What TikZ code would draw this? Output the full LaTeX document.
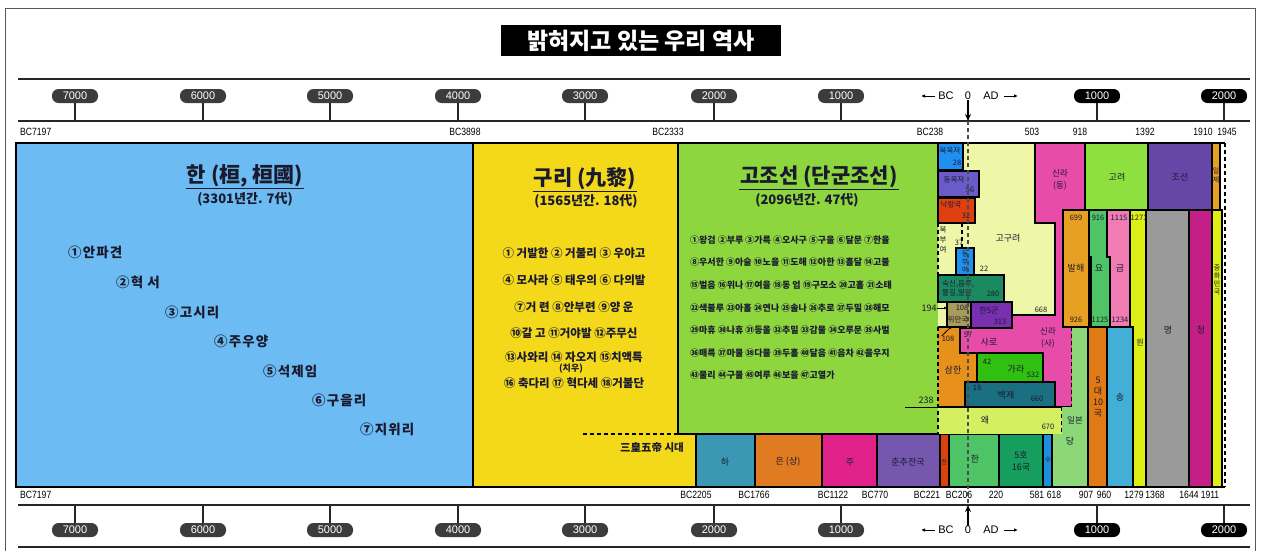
\documentclass[tikz,border=0pt]{standalone}
\usepackage{fontspec}
\setmainfont{Noto Sans CJK KR}
\newfontfamily\krsp[LetterSpace=8]{Noto Sans CJK KR}
\newfontfamily\yrf[FakeStretch=0.82]{Liberation Sans}
\newfontfamily\pillf{Liberation Sans}
\usetikzlibrary{arrows.meta}
\newcommand\fsz[1]{\fontsize{#1}{#1}\selectfont}
\newcommand\fszl[2]{\fontsize{#1}{#2}\selectfont}
\definecolor{cBlue}{HTML}{6CBBF2}
\definecolor{cYel}{HTML}{F4D81A}
\definecolor{cGrn}{HTML}{8DD63E}
\definecolor{cHa}{HTML}{3A98B5}
\definecolor{cEun}{HTML}{E07B22}
\definecolor{cJu}{HTML}{E0218A}
\definecolor{cChun}{HTML}{7557AE}
\definecolor{cJin}{HTML}{D9420F}
\definecolor{cHan}{HTML}{4EC466}
\definecolor{cOho}{HTML}{159E5E}
\definecolor{cSu}{HTML}{1C8FE0}
\definecolor{cDang}{HTML}{8CD878}
\definecolor{cOdae}{HTML}{E07A14}
\definecolor{cSong}{HTML}{42AFD6}
\definecolor{cWon}{HTML}{DDF016}
\definecolor{cMyeong}{HTML}{9A9A9A}
\definecolor{cCheong}{HTML}{C41F86}
\definecolor{cGoryeo}{HTML}{8EE03E}
\definecolor{cJoseon}{HTML}{6647A8}
\definecolor{cIlje}{HTML}{E8A020}
\definecolor{cBalhae}{HTML}{E8A022}
\definecolor{cYo}{HTML}{4EC466}
\definecolor{cGeum}{HTML}{F07CB4}
\definecolor{cSilla}{HTML}{E64CA8}
\definecolor{cGogu}{HTML}{EEF6A8}
\definecolor{cBuk}{HTML}{1E90F0}
\definecolor{cDongok}{HTML}{6B5BC8}
\definecolor{cNak}{HTML}{E04010}
\definecolor{cSuk}{HTML}{1A8A60}
\definecolor{cWiman}{HTML}{A89C5A}
\definecolor{cHanf}{HTML}{7830B0}
\definecolor{cSam}{HTML}{E8901C}
\definecolor{cGara}{HTML}{30C010}
\definecolor{cBaek}{HTML}{1A7080}
\definecolor{cWae}{HTML}{D4F060}
\definecolor{cPillBC}{HTML}{3C3C3C}
\definecolor{cTxt}{HTML}{1A1A2E}
\begin{document}
\begin{tikzpicture}[x=1pt,y=-1pt,
  blk/.style={draw=black,line width=1.3pt},
  dsh/.style={draw=black,line width=1.3pt,dash pattern=on 4pt off 3pt},
  lb/.style={inner sep=0pt,text=cTxt},
  axl/.style={line width=1.3pt,draw=black!85},
  tk/.style={line width=1.2pt,draw=black!85},
  pill/.style={rounded corners=6.5pt,minimum width=46pt,minimum height=14pt,inner sep=0pt,text=white,font=\pillf\fsz{11}},
  yr/.style={inner sep=0pt,text=black,font=\yrf\fsz{10.5}},
  ttl/.style={inner sep=1pt,text=cTxt,font=\bfseries\fsz{21}},
  sub/.style={inner sep=0pt,text=cTxt,font=\bfseries\fsz{13}},
  it/.style={inner sep=0pt,anchor=west,text=cTxt,font=\krsp\bfseries\fsz{13.5}},
  yi/.style={inner sep=0pt,text=cTxt,font=\bfseries\fsz{11.5}},
  gi/.style={inner sep=0pt,anchor=west,text=cTxt,font=\bfseries\fsz{9}},
  sm/.style={inner sep=0pt,text=cTxt,font=\fsz{7.5}},
  md/.style={inner sep=0pt,text=cTxt,font=\fsz{9}},
  bc/.style={inner sep=0pt,text=black,font=\pillf\fsz{11}},
  arr/.style={-{Latex[length=4pt,width=3.5pt]},line width=0.9pt},
  zarr/.style={-{Stealth[length=7pt,width=6pt]},line width=1.3pt},
]
\useasboundingbox (0,0) rectangle (1261,551);
\fill[white] (0,0) rectangle (1261,551);
% outer frame
\draw[line width=0.8pt,draw=black!65] (5,560) -- (5,8) -- (1255,8) -- (1255,560);
% title
\node[fill=black,text=white,font=\bfseries\fsz{23},minimum width=280pt,minimum height=31pt,inner sep=0pt] (title) at (641,41) {밝혀지고 있는 우리 역사};
% axes
\draw[axl] (18,79) -- (1250,79);
\draw[axl] (18,121) -- (1250,121);
\draw[axl] (18,505) -- (1250,505);
\draw[axl] (18,547) -- (1250,547);
\foreach \v/\x/\c [count=\i] in {7000/75/cPillBC,6000/203/cPillBC,5000/330/cPillBC,4000/458/cPillBC,3000/585/cPillBC,2000/714/cPillBC,1000/841/cPillBC,1000/1097/black,2000/1224/black}{
  \node[pill,fill=\c] (pT\i) at (\x,96) {\v};
  \coordinate (aT\i) at (\x,121);
  \draw[tk] (pT\i.south) -- (aT\i);
  \node[pill,fill=\c] (pB\i) at (\x,530) {\v};
  \coordinate (aB\i) at (\x,505);
  \draw[tk] (pB\i.north) -- (aB\i);
}
% BC 0 AD top
\node[bc] (zT) at (968,96) {0};
\node[bc] (bcT) at (946,96) {BC};
\node[bc] (adT) at (991,96) {AD};
\coordinate (bcTa) at (935,96); \coordinate (bcTb) at (921,96);
\coordinate (adTa) at (1004,96); \coordinate (adTb) at (1018,96);
\draw[arr] (bcTa) -- (bcTb);
\draw[arr] (adTa) -- (adTb);
\coordinate (zTa) at (968,121);
\draw[zarr] (zT.south) -- (zTa);
% BC 0 AD bottom
\node[bc] (zB) at (968,530) {0};
\node[bc] (bcB) at (946,530) {BC};
\node[bc] (adB) at (991,530) {AD};
\coordinate (bcBa) at (935,530); \coordinate (bcBb) at (921,530);
\coordinate (adBa) at (1004,530); \coordinate (adBb) at (1018,530);
\draw[arr] (bcBa) -- (bcBb);
\draw[arr] (adBa) -- (adBb);
\coordinate (zBa) at (968,505);
\draw[zarr] (zB.north) -- (zBa);
% year labels top
\node[yr,anchor=west] (yt1) at (20,132) {BC7197};
\node[yr] (yt2) at (465,132) {BC3898};
\node[yr] (yt3) at (668,132) {BC2333};
\node[yr] (yt4) at (930,132) {BC238};
\node[yr] (yt5) at (1032,132) {503};
\node[yr] (yt6) at (1080,132) {918};
\node[yr] (yt7) at (1145,132) {1392};
\node[yr] (yt8) at (1203,132) {1910};
\node[yr] (yt9) at (1227,132) {1945};
% year labels bottom
\node[yr,anchor=west] (yb1) at (20,495) {BC7197};
\node[yr] (yb2) at (696,495) {BC2205};
\node[yr] (yb3) at (754,495) {BC1766};
\node[yr] (yb4) at (833,495) {BC1122};
\node[yr] (yb5) at (875,495) {BC770};
\node[yr] (yb6) at (927,495) {BC221};
\node[yr] (yb7) at (959,495) {BC206};
\node[yr] (yb8) at (996,495) {220};
\node[yr] (yb9) at (1037,495) {581};
\node[yr] (yb10) at (1054,495) {618};
\node[yr] (yb11) at (1086,495) {907};
\node[yr] (yb12) at (1104,495) {960};
\node[yr] (yb13) at (1134,495) {1279};
\node[yr] (yb14) at (1155,495) {1368};
\node[yr] (yb15) at (1189,495) {1644};
\node[yr] (yb16) at (1210,495) {1911};
% ===== chart =====
\fill[cBlue] (16,143) rectangle (473,487);
\fill[cYel] (473,143) rectangle (696,487);
\draw[blk] (473,143) -- (473,487);
\fill[cGrn] (678,143) rectangle (938,434);
\draw[blk] (678,143) -- (678,434) -- (938,434);
\draw[dsh] (583,434) -- (678,434);
% bottom dynasty row
\foreach \a/\b/\c in {696/755/cHa,755/822/cEun,822/877/cJu,877/940/cChun,940/949/cJin,949/999/cHan,999/1043/cOho,1043/1052/cSu}{
  \draw[blk,fill=\c] (\a,434) rectangle (\b,487);
}
% goguryeo background
\fill[cGogu] (938,143) rectangle (1055,328);
% silla
\fill[cSilla] (1035,143) -- (1085,143) -- (1085,210) -- (1063,210) -- (1063,327) -- (1072,327) -- (1072,407) -- (960,407) -- (960,328) -- (1012,328) -- (1012,315) -- (1055,315) -- (1055,223) -- (1035,223) -- cycle;
\draw[blk] (1072,327) -- (1063,327) -- (1063,210) -- (1085,210) -- (1085,143) -- (1035,143) -- (1035,223) -- (1055,223) -- (1055,315) -- (1012,315) -- (1012,328) -- (960,328) -- (960,407) -- (1072,407);
\draw[dsh] (1072,327) -- (1072,407);
% small northern states
\draw[blk,fill=cBuk] (938,143) rectangle (963,170);
\draw[blk,fill=cDongok] (938,171) rectangle (979,197);
\draw[blk,fill=cNak] (938,198) rectangle (975,223);
\draw[dsh] (938,223) -- (938,275);
\draw[dsh] (962,223) -- (962,248);
\draw[blk,fill=cBuk] (956,248) rectangle (974,275);
\draw[blk,fill=cSuk] (938,275) rectangle (1004,302);
\draw[blk,fill=cWiman] (947,302) rectangle (971,327);
\draw[blk,fill=cHanf] (971,302) rectangle (1012,328);
% samhan
\fill[cSam] (938,327) -- (960,327) -- (960,353) -- (977,353) -- (977,382) -- (965,382) -- (965,407) -- (938,407) -- cycle;
\draw[blk] (938,327) -- (960,327) -- (960,353) -- (977,353) -- (977,382) -- (965,382) -- (965,407);
\draw[blk,fill=cGara] (977,353) rectangle (1043,382);
\draw[blk,fill=cBaek] (965,382) rectangle (1055,407);
% wae
\fill[cWae] (938,407) rectangle (1062,434);
\draw[blk] (938,407) -- (1062,407);
\draw[dsh] (1062,407) -- (1062,434);
\draw[dsh] (938,327) -- (938,434);
% dang
\fill[cDang] (1062,407) -- (1072,407) -- (1072,327) -- (1088,327) -- (1088,487) -- (1052,487) -- (1052,434) -- (1062,434) -- cycle;
\draw[blk] (1052,434) -- (1052,487);
% right side
\draw[blk,fill=cBalhae] (1063,210) rectangle (1089,327);
\draw[blk,fill=cYo] (1089,210) -- (1107,210) -- (1107,257) -- (1110,257) -- (1110,327) -- (1091,327) -- (1091,257) -- (1089,257) -- cycle;
\draw[blk,fill=cGeum] (1107,210) -- (1130,210) -- (1130,327) -- (1110,327) -- (1110,257) -- (1107,257) -- cycle;
\draw[blk,fill=cWon] (1130,210) rectangle (1146,487);
\draw[blk,fill=cOdae] (1088,327) rectangle (1107,487);
\draw[blk,fill=cSong] (1107,327) rectangle (1133,487);
\draw[blk,fill=cMyeong] (1146,210) rectangle (1189,487);
\draw[blk,fill=cCheong] (1189,210) rectangle (1212,487);
\draw[blk,fill=cWon] (1212,210) rectangle (1222,487);
\draw[blk,fill=cGoryeo] (1085,143) rectangle (1148,210);
\draw[blk,fill=cJoseon] (1148,143) rectangle (1212,210);
\draw[blk,fill=cIlje] (1212,143) rectangle (1220,210);
% chart frame
\draw[line width=2.6pt] (1225,143) -- (16,143) -- (16,487) -- (1225,487);
\draw[dsh] (1225,143) -- (1225,487);
% ===== texts: Han =====
\node[ttl] (tHan) at (245,176) {한 (桓, 桓國)};
\draw[line width=1.2pt,draw=cTxt] (tHan.south west) -- (tHan.south east);
\node[sub] (sHan) at (245,199) {(3301년간. 7代)};
\node[it] (h1) at (68,252) {①안파견};
\node[it] (h2) at (116,282) {②혁 서};
\node[it] (h3) at (165,312) {③고시리};
\node[it] (h4) at (214,341) {④주우양};
\node[it] (h5) at (263,371) {⑤석제임};
\node[it] (h6) at (312,400) {⑥구을리};
\node[it] (h7) at (360,429) {⑦지위리};
% ===== Guri =====
\node[ttl] (tGuri) at (585,179) {구리 (九黎)};
\draw[line width=1.2pt,draw=cTxt] (tGuri.south west) -- (tGuri.south east);
\node[sub] (sGuri) at (586,201) {(1565년간. 18代)};
\node[yi] (g1) at (574,253) {① 거발한 ② 거불리 ③ 우야고};
\node[yi] (g2) at (574,280) {④ 모사라 ⑤ 태우의 ⑥ 다의발};
\node[yi] (g3) at (574,307) {⑦거 련 ⑧안부련 ⑨양 운};
\node[yi] (g4) at (574,333) {⑩갈 고 ⑪거야발 ⑫주무신};
\node[yi] (g5) at (574,357) {⑬사와리 ⑭ 자오지 ⑮치액특};
\node[lb,font=\bfseries\fsz{9}] (g5b) at (571,369) {(치우)};
\node[yi] (g6) at (574,383) {⑯ 축다리 ⑰ 혁다세 ⑱거불단};
\node[lb,font=\bfseries\fsz{10.5}] (samhwang) at (652,448) {三皇五帝 시대};
% ===== Gojoseon =====
\node[ttl] (tGo) at (819,177) {고조선 (단군조선)};
\draw[line width=1.2pt,draw=cTxt] (tGo.south west) -- (tGo.south east);
\node[sub] (sGo) at (807,200) {(2096년간. 47代)};
\node[gi] (j1) at (690,240) {①왕검 ②부루 ③가륵 ④오사구 ⑤구을 ⑥달문 ⑦한율};
\node[gi] (j2) at (690,262) {⑧우서한 ⑨아술 ⑩노을 ⑪도해 ⑫아한 ⑬흘달 ⑭고불};
\node[gi] (j3) at (690,285) {⑮벌음 ⑯위나 ⑰여을 ⑱동 엄 ⑲구모소 ⑳고홀 ㉑소태};
\node[gi] (j4) at (690,308) {㉒색불루 ㉓아홀 ㉔연나 ㉕솔나 ㉖추로 ㉗두밀 ㉘해모};
\node[gi] (j5) at (690,330) {㉙마휴 ㉚나휴 ㉛등올 ㉜추밀 ㉝감물 ㉞오루문 ㉟사벌};
\node[gi] (j6) at (690,353) {㊱매륵 ㊲마물 ㊳다물 ㊴두홀 ㊵달음 ㊶음차 ㊷을우지};
\node[gi] (j7) at (690,375) {㊸물리 ㊹구물 ㊺여루 ㊻보을 ㊼고열가};
\node[md] (n194) at (929,308) {194};
\node[md] (n238) at (926,400) {238};
\coordinate (l238) at (905,407);
\coordinate (r238) at (938,407);
\draw[line width=1pt] (l238) -- (r238);
% ===== middle states =====
\node[sm] (tBok) at (950,151) {북옥저};
\node[sm] (nBok) at (957,163) {28};
\node[sm] (tDok) at (954,180) {동옥저};
\node[sm] (nDok) at (970,190) {56};
\node[sm] (tNak) at (951,205) {낙랑국};
\node[sm] (nNak) at (966,216) {32};
\node[lb,font=\fszl{7.5}{10},align=center] (tBbu) at (943,240) {북\\부\\여};
\node[sm] (nBbu) at (959,243) {37};
\node[lb,font=\fszl{7}{8},align=center] (tDbu) at (965,262) {동\\부\\여};
\node[sm] (nDbu) at (984,269) {22};
\node[lb,font=\fszl{7.5}{9},align=left,anchor=west] (tSuk) at (942,289) {숙신,읍루,\\물길,말갈};
\node[sm] (nSuk) at (993,294) {280};
\node[sm] (nWim) at (962,308) {108};
\node[sm] (tWim) at (958,320) {위만국};
\node[lb,font=\fsz{8}] (tHan5) at (989,310) {한5군};
\node[sm] (nHan5) at (1000,322) {313};
\node[md] (tGogu) at (1008,238) {고구려};
\node[sm] (nGogu) at (1041,310) {668};
\node[lb,font=\fszl{8.5}{12},align=center] (tSillaD) at (1060,180) {신라\\(동)};
\node[lb,font=\fszl{8.5}{12},align=center] (tSillaS) at (1048,338) {신라\\(사)};
\node[sm] (n57) at (968,335) {57};
\node[md] (tSaro) at (989,342) {사로};
\node[sm] (nSam) at (948,339) {108};
\node[md] (tSam) at (953,370) {삼한};
\node[sm] (nGara) at (987,362) {42};
\node[md] (tGara) at (1016,369) {가라};
\node[sm] (eGara) at (1033,375) {532};
\node[sm] (nBaek) at (977,388) {18};
\node[md] (tBaek) at (1006,395) {백제};
\node[sm] (eBaek) at (1037,399) {660};
\node[md] (tWae) at (985,420) {왜};
\node[sm] (eWae) at (1048,427) {670};
\node[lb,font=\fsz{8.5}] (tIlbon) at (1075,420) {일본};
\node[md] (tDang) at (1070,441) {당};
\coordinate (wimS) at (952,326);
\draw[-{Latex[length=3pt,width=3pt]},line width=0.8pt] (nSam.north west) -- (wimS);
\coordinate (wimW) at (947,308);
\draw[-{Latex[length=3pt,width=3pt]},line width=0.8pt] (n194.east) -- (wimW);
% ===== right side texts =====
\node[sm] (nBal1) at (1076,218) {699};
\node[md] (tBal) at (1076,268) {발해};
\node[sm] (nBal2) at (1076,320) {926};
\node[sm] (nYo1) at (1098,218) {916};
\node[md] (tYo) at (1099,268) {요};
\node[sm] (nYo2) at (1100,320) {1125};
\node[sm] (nGeum1) at (1119,218) {1115};
\node[md] (tGeum) at (1120,268) {금};
\node[sm] (nGeum2) at (1120,320) {1234};
\node[sm] (nWon) at (1139,218) {1271};
\node[lb,font=\fsz{8}] (tWon) at (1140,342) {원};
\node[md] (tMyeong) at (1168,330) {명};
\node[md] (tCheong) at (1201,330) {청};
\node[lb,font=\fszl{7}{8},align=center] (tJhm) at (1217,280) {중\\화\\민\\국};
\node[md] (tGoryeo) at (1117,177) {고려};
\node[md] (tJoseon) at (1180,177) {조선};
\node[lb,font=\fszl{7}{9},align=center] (tIlje) at (1216,175) {일\\제};
\node[lb,font=\fszl{9}{11},align=center] (tOdae) at (1098,397) {5\\대\\10\\국};
\node[md] (tSong) at (1120,397) {송};
% ===== bottom row texts =====
\node[md] (tHa) at (725,462) {하};
\node[md] (tEun) at (788,462) {은 (상)};
\node[md] (tJu) at (850,462) {주};
\node[md] (tChun) at (908,462) {춘추전국};
\node[lb,font=\fsz{6}] (tJin) at (944,462) {진};
\node[md] (tHanB) at (975,459) {한};
\node[lb,font=\fszl{9}{12},align=center] (tOho) at (1021,461) {5호\\16국};
\node[lb,font=\fsz{7}] (tSu) at (1048,460) {수};
% zero dashed line
\coordinate (z0a) at (968,121);
\coordinate (z0b) at (968,505);
\draw[dash pattern=on 4pt off 3pt,line width=1.1pt,draw=black!70] (z0a) -- (z0b);
\end{tikzpicture}
\end{document}
